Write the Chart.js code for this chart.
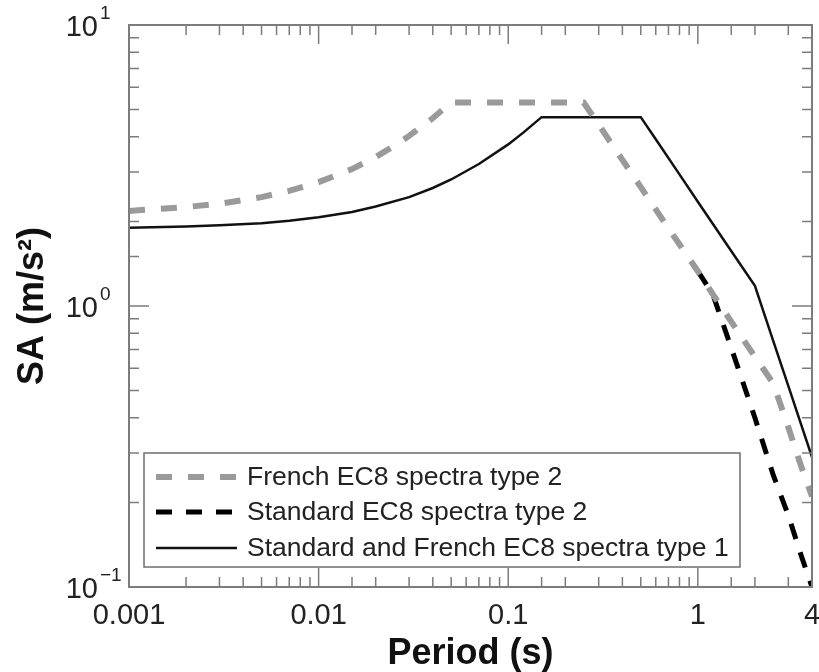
<!DOCTYPE html>
<html>
<head>
<meta charset="utf-8">
<script src="https://cdn.jsdelivr.net/npm/chart.js@4.4.1/dist/chart.umd.min.js"></script>
<style>
  body { margin: 0; background: #fff; }
  #wrap { width: 819px; height: 672px; }
</style>
</head>
<body>
<div id="wrap"><canvas id="spectra" width="819" height="672"></canvas></div>
<script>
// Periods (s) and spectral accelerations (m/s^2)
const frenchT2Period = [0.001, 0.002, 0.003, 0.005, 0.007, 0.01, 0.015, 0.02, 0.025, 0.03, 0.04, 0.05, 0.25, 0.3, 0.4, 0.5, 0.7, 1.0, 1.2, 1.5, 2.0, 2.5, 3.0, 3.5, 4.0];
const frenchT2SA     = [2.18, 2.25, 2.31, 2.44, 2.57, 2.76, 3.07, 3.39, 3.71, 4.03, 4.66, 5.30, 5.30, 4.42, 3.31, 2.65, 1.89, 1.33, 1.10, 0.88, 0.66, 0.53, 0.37, 0.27, 0.21];

const standardT2Period = [1.0, 1.2, 1.3, 1.5, 2.0, 2.5, 3.0, 3.5, 4.0];
const standardT2SA     = [1.33, 1.10, 0.94, 0.71, 0.40, 0.25, 0.18, 0.13, 0.10];

const type1Period = [0.001, 0.002, 0.003, 0.005, 0.007, 0.01, 0.015, 0.02, 0.03, 0.04, 0.05, 0.07, 0.1, 0.12, 0.15, 0.5, 0.6, 0.8, 1.0, 1.5, 2.0, 2.5, 3.0, 3.5, 4.0];
const type1SA     = [1.90, 1.92, 1.94, 1.97, 2.01, 2.07, 2.16, 2.26, 2.44, 2.63, 2.82, 3.20, 3.76, 4.14, 4.70, 4.70, 3.92, 2.94, 2.35, 1.57, 1.18, 0.75, 0.52, 0.38, 0.29];

const seriesLabels = ['French EC8 spectra type 2', 'Standard EC8 spectra type 2', 'Standard and French EC8 spectra type 1'];

const xTickValues = [0.001, 0.01, 0.1, 1, 4];
const xTickText   = ['0.001', '0.01', '0.1', '1', '4'];
const yTickValues = [0.1, 1, 10];
const yTickExp    = ['\u22121', '0', '1'];

const FONT = '"Liberation Sans", Arial, Helvetica, sans-serif';
Chart.defaults.font.family = FONT;

function toPoints(xs, ys) {
  return xs.map((x, i) => ({ x: x, y: ys[i] }));
}

function isDecade(v) {
  const l = Math.log10(v);
  return Math.abs(l - Math.round(l)) < 1e-6;
}

// MATLAB-like box with inward ticks, superscript y labels and boxed legend
const matlabLook = {
  id: 'matlabLook',
  afterDraw(chart) {
    const ctx = chart.ctx;
    const a = chart.chartArea;
    const xs = chart.scales.x;
    const ys = chart.scales.y;
    ctx.save();
    ctx.strokeStyle = '#7c7c7c';
    ctx.lineWidth = 1.5;
    ctx.beginPath();
    xs.ticks.forEach(t => {
      const px = xs.getPixelForValue(t.value);
      if (px <= a.left + 1 || px >= a.right - 1) return;
      const len = isDecade(t.value) ? 19 : 10;
      ctx.moveTo(px, a.bottom); ctx.lineTo(px, a.bottom - len);
      ctx.moveTo(px, a.top); ctx.lineTo(px, a.top + len);
    });
    ys.ticks.forEach(t => {
      const py = ys.getPixelForValue(t.value);
      if (py <= a.top + 1 || py >= a.bottom - 1) return;
      const len = isDecade(t.value) ? 20 : 10;
      ctx.moveTo(a.left, py); ctx.lineTo(a.left + len, py);
      ctx.moveTo(a.right, py); ctx.lineTo(a.right - len, py);
    });
    ctx.stroke();
    ctx.lineWidth = 2;
    ctx.strokeRect(a.left, a.top, a.right - a.left, a.bottom - a.top);

    // y tick labels 10^n
    ctx.fillStyle = '#222';
    yTickValues.forEach((v, i) => {
      const py = ys.getPixelForValue(v);
      ctx.font = '29px ' + FONT;
      ctx.textAlign = 'right';
      ctx.textBaseline = 'middle';
      ctx.fillText('10', 98, py + 3);
      ctx.font = '19px ' + FONT;
      ctx.textAlign = 'left';
      ctx.fillText(yTickExp[i], 100, py - 11);
    });

    // legend
    const lx = 144, ly = 453, lw = 596, lh = 114;
    ctx.fillStyle = '#fff';
    ctx.fillRect(lx, ly, lw, lh);
    ctx.strokeStyle = '#6e6e6e';
    ctx.lineWidth = 1.5;
    ctx.strokeRect(lx, ly, lw, lh);
    const rows = [477, 512, 548];
    chart.data.datasets.forEach((ds, i) => {
      const y = rows[i];
      ctx.save();
      ctx.strokeStyle = ds.borderColor;
      ctx.lineWidth = ds.borderWidth;
      ctx.setLineDash(ds.borderDash || []);
      ctx.beginPath();
      ctx.moveTo(156, y);
      ctx.lineTo(237, y);
      ctx.stroke();
      ctx.restore();
      ctx.fillStyle = '#222';
      ctx.font = '26.5px ' + FONT;
      ctx.textAlign = 'left';
      ctx.textBaseline = 'middle';
      ctx.fillText(ds.label, 247, y + 1);
    });
    ctx.restore();
  }
};

new Chart(document.getElementById('spectra'), {
  type: 'line',
  data: {
    datasets: [
      {
        label: seriesLabels[0],
        data: toPoints(frenchT2Period, frenchT2SA),
        borderColor: '#9a9a9a',
        borderWidth: 6,
        borderDash: [16, 16]
      },
      {
        label: seriesLabels[1],
        data: toPoints(standardT2Period, standardT2SA),
        borderColor: '#000',
        borderWidth: 5,
        borderDash: [16, 14]
      },
      {
        label: seriesLabels[2],
        data: toPoints(type1Period, type1SA),
        borderColor: '#111',
        borderWidth: 2.5
      }
    ]
  },
  options: {
    responsive: false,
    animation: false,
    layout: { padding: { top: 25, right: 7, left: 0, bottom: 0 } },
    elements: { point: { radius: 0 }, line: { tension: 0, fill: false } },
    plugins: { legend: { display: false }, tooltip: { enabled: false } },
    scales: {
      x: {
        type: 'logarithmic',
        min: 0.001,
        max: 4,
        grid: { display: false, drawTicks: false },
        border: { display: false },
        ticks: {
          autoSkip: false,
          maxRotation: 0,
          padding: 12,
          color: '#222',
          font: { size: 29 },
          callback: (v) => {
            const i = xTickValues.findIndex(t => Math.abs(t - v) / t < 1e-6);
            return i >= 0 ? xTickText[i] : '';
          }
        },
        title: {
          display: true,
          text: 'Period (s)',
          color: '#111',
          font: { size: 36, weight: 'bold', lineHeight: 1.0 },
          padding: { top: 0, bottom: 0 }
        },
        afterFit: (s) => {
          s.height = 85;
          s.paddingLeft = 0;
          s.paddingRight = 0;
        }
      },
      y: {
        type: 'logarithmic',
        min: 0.1,
        max: 10,
        grid: { display: false, drawTicks: false },
        border: { display: false },
        ticks: { display: false },
        title: {
          display: true,
          text: 'SA (m/s\u00b2)',
          color: '#111',
          font: { size: 36, weight: 'bold', lineHeight: 1.0 },
          padding: { top: 15, bottom: 0 }
        },
        afterFit: (s) => {
          s.width = 129;
          s.paddingTop = 0;
          s.paddingBottom = 0;
        }
      }
    }
  },
  plugins: [matlabLook]
});
</script>
</body>
</html>
